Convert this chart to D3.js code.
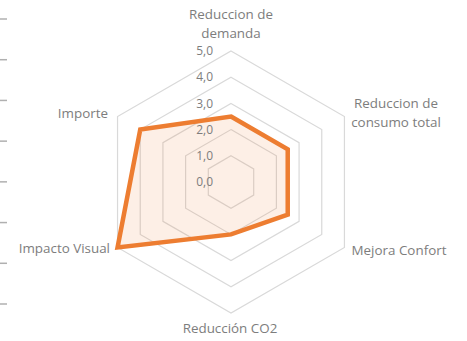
<!DOCTYPE html>
<html>
<head>
<meta charset="utf-8">
<script src="https://cdn.jsdelivr.net/npm/d3@7"></script>
<style>
  html, body { margin: 0; padding: 0; background: #fff; }
  svg { display: block; }
  text { font-family: "Open Sans", "Noto Sans", sans-serif; fill: #7d7d7d; }
</style>
</head>
<body>
<svg id="chart" width="467" height="341"></svg>
<script>
// Criteria around the radar, clockwise from the top
const categories = [
  ["Reduccion de", "demanda"],
  ["Reduccion de", "consumo total"],
  ["Mejora Confort"],
  ["Reducción CO2"],
  ["Impacto Visual"],
  ["Importe"]
];
// Score for each criterion
const values = [2.5, 2.5, 2.5, 2.0, 5.0, 4.0];
// Radial axis levels
const levels = [0, 1, 2, 3, 4, 5];
// Leftover tick marks on the left edge
const edgeTicks = [0, 1, 2, 3, 4, 5, 6, 7];

const svg = d3.select("#chart");
const cx = 231, cy = 182, R = 131;

const r = d3.scaleLinear().domain([0, 5]).range([0, R]);
const angle = d3.scalePoint().domain(d3.range(categories.length)).range([0, 2 * Math.PI * (categories.length - 1) / categories.length]);
const fmt = v => d3.format(".1f")(v).replace(".", ",");

const g = svg.append("g").attr("transform", `translate(${cx},${cy})`);

const radial = d3.lineRadial()
  .angle((d, i) => angle(i))
  .radius(d => r(d))
  .curve(d3.curveLinearClosed);

// Hexagonal grid
g.selectAll("path.grid")
  .data(levels.filter(l => l > 0))
  .join("path")
  .attr("class", "grid")
  .attr("d", l => radial(categories.map(() => l)))
  .attr("fill", "none")
  .attr("stroke", "#d9d9d9")
  .attr("stroke-width", 1.2);

// Series area and outline
g.append("path")
  .attr("d", radial(values))
  .attr("fill", "#ED7D31")
  .attr("fill-opacity", 0.12)
  .attr("stroke", "#ED7D31")
  .attr("stroke-width", 4.5)
  .attr("stroke-linejoin", "miter");

// Radial axis labels
g.selectAll("text.lvl")
  .data(levels)
  .join("text")
  .attr("class", "lvl")
  .attr("x", -18)
  .attr("y", l => -r(l))
  .attr("dy", "0.35em")
  .attr("text-anchor", "end")
  .style("font-size", "12px")
  .text(fmt);

// Category labels
const labelPos = [
  { dx: 0, dy: -168, anchor: "middle" },
  { dx: 165, dy: -79, anchor: "middle" },
  { dx: 168, dy: 68, anchor: "middle" },
  { dx: -1, dy: 146, anchor: "middle" },
  { dx: -121, dy: 66, anchor: "end" },
  { dx: -123, dy: -69, anchor: "end" }
];
const lab = g.selectAll("text.cat")
  .data(categories)
  .join("text")
  .attr("class", "cat")
  .attr("text-anchor", (d, i) => labelPos[i].anchor)
  .style("font-size", "13.4px");
lab.each(function (lines, i) {
  const t = d3.select(this);
  lines.forEach((s, k) => {
    t.append("tspan")
      .attr("x", labelPos[i].dx)
      .attr("y", labelPos[i].dy + k * 19)
      .attr("dy", "0.35em")
      .text(s);
  });
});

// Left-edge tick marks
const tickY = d3.scaleLinear().domain([0, 7]).range([19, 304]);
svg.selectAll("line.edge")
  .data(edgeTicks)
  .join("line")
  .attr("class", "edge")
  .attr("x1", 0).attr("x2", 7)
  .attr("y1", d => tickY(d)).attr("y2", d => tickY(d))
  .attr("stroke", "#b0b0b0")
  .attr("stroke-width", 1.5);
</script>
</body>
</html>
